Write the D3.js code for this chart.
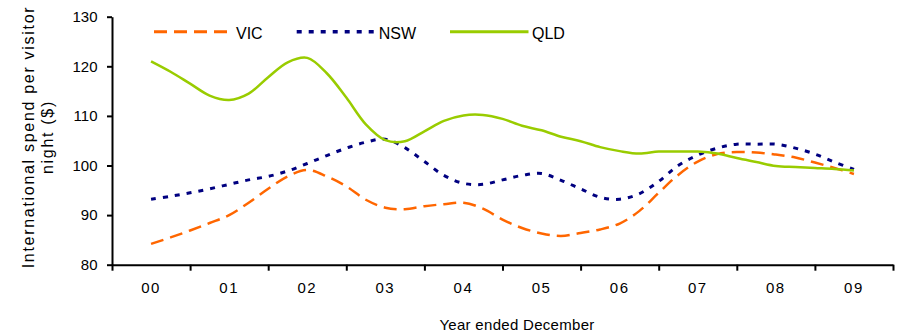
<!DOCTYPE html>
<html>
<head>
<meta charset="utf-8">
<script src="https://cdn.jsdelivr.net/npm/d3@7/dist/d3.min.js"></script>
<style>
  html, body { margin: 0; padding: 0; background: #fff; }
  svg { display: block; font-family: "Liberation Sans", Arial, sans-serif; }
</style>
</head>
<body>
<svg id="chart" width="897" height="333"></svg>
<script>
// Year labels (year ended December) and y-axis ticks
const years = ["00", "01", "02", "03", "04", "05", "06", "07", "08", "09"];
const yTicks = [80, 90, 100, 110, 120, 130];

// Quarterly values, $ per visitor night, from Dec 2000 to Dec 2009
const vic = [84.2, 85.5, 86.9, 88.4, 90.0, 92.5, 95.3, 97.8, 99.1, 97.8,
             95.8, 93.1, 91.5, 91.2, 91.8, 92.2, 92.5, 91.3, 89.1, 87.4,
             86.3, 85.8, 86.4, 87.1, 88.3, 90.8, 94.5, 98.1, 100.8, 102.3,
             102.7, 102.6, 102.2, 101.6, 100.6, 99.5, 98.3];
const nsw = [93.2, 93.8, 94.5, 95.3, 96.2, 97.1, 97.8, 98.9, 100.4, 102.0,
             103.5, 104.7, 105.3, 103.6, 100.8, 98.0, 96.4, 96.2, 97.1, 98.0,
             98.4, 97.0, 95.3, 93.6, 93.2, 94.3, 96.8, 100.0, 102.1, 103.5,
             104.3, 104.3, 104.3, 103.5, 102.3, 100.7, 99.2];
const qld = [121.0, 118.9, 116.5, 114.1, 113.2, 114.5, 117.8, 120.8, 121.7, 118.6,
             113.7, 108.3, 105.1, 104.9, 106.9, 109.0, 110.1, 110.2, 109.4, 108.0,
             107.1, 105.8, 104.9, 103.7, 102.9, 102.4, 102.8, 102.8, 102.8, 102.4,
             101.5, 100.7, 99.9, 99.7, 99.5, 99.3, 99.0];

const series = [
  { name: "VIC", values: vic, color: "#FF6600", width: 2.5, dash: "13,7" },
  { name: "NSW", values: nsw, color: "#000080", width: 3, dash: "5,7" },
  { name: "QLD", values: qld, color: "#99CC00", width: 2.5, dash: null }
];

const svg = d3.select("#chart");
const plotLeft = 112, plotRight = 893, plotTop = 16.7, plotBottom = 264.7;

// Continuous year position: band i spans [i, i+1]
const xLin = d3.scaleLinear().domain([0, years.length]).range([plotLeft, plotRight]);
const xBand = d3.scaleBand().domain(years).range([plotLeft, plotRight]);
const y = d3.scaleLinear().domain([80, 130]).range([plotBottom, plotTop]);

// Y axis
const yAxis = svg.append("g")
  .attr("transform", `translate(${plotLeft},0)`)
  .call(d3.axisLeft(y).tickValues(yTicks).tickSize(5).tickSizeOuter(0).tickPadding(9.5));
yAxis.selectAll("path, line").attr("stroke", "#000").attr("stroke-width", 2);
yAxis.selectAll("text").attr("font-size", 15).attr("fill", "#000")
  .attr("font-family", "Liberation Sans, Arial, sans-serif");

// X axis: tick marks at year boundaries
const xAxis = svg.append("g")
  .attr("transform", `translate(0,${plotBottom})`)
  .call(d3.axisBottom(xLin).tickValues(d3.range(years.length + 1)).tickFormat("").tickSize(6).tickSizeOuter(0));
xAxis.selectAll("path, line").attr("stroke", "#000").attr("stroke-width", 2);

// X axis: year labels centred in each band
const xLabels = svg.append("g")
  .attr("transform", `translate(0,${plotBottom})`)
  .call(d3.axisBottom(xBand).tickSize(0).tickPadding(17.4));
xLabels.select(".domain").remove();
xLabels.selectAll("text").attr("font-size", 15).attr("fill", "#000")
  .attr("letter-spacing", "1.5px")
  .attr("font-family", "Liberation Sans, Arial, sans-serif");

// Axis titles
const yTitle = svg.append("text")
  .attr("transform", "rotate(-90)")
  .attr("text-anchor", "middle")
  .attr("font-size", 16)
  .attr("letter-spacing", "1.7px")
  .attr("fill", "#000");
yTitle.append("tspan").attr("x", -137).attr("y", 34).text("International spend per visitor");
yTitle.append("tspan").attr("x", -137).attr("y", 53).text("night ($)");

svg.append("text")
  .attr("x", 517).attr("y", 330)
  .attr("text-anchor", "middle")
  .attr("font-size", 15)
  .attr("letter-spacing", "0.3px")
  .attr("fill", "#000")
  .text("Year ended December");

// Lines: quarter k sits at band centre of year 00 plus k/4
const line = d3.line()
  .x((d, k) => xLin(0.5 + k / 4))
  .y(d => y(d))
  .curve(d3.curveCatmullRom.alpha(0.5));

svg.append("g").selectAll("path")
  .data(series)
  .join("path")
  .attr("d", d => line(d.values))
  .attr("fill", "none")
  .attr("stroke", d => d.color)
  .attr("stroke-width", d => d.width)
  .attr("stroke-dasharray", d => d.dash);

// Legend
const legendX = [154, 296.7, 450];
const legend = svg.append("g").selectAll("g")
  .data(series)
  .join("g")
  .attr("transform", (d, i) => `translate(${legendX[i]},31.7)`);
legend.append("line")
  .attr("x1", 0).attr("x2", 78.5)
  .attr("stroke", d => d.color)
  .attr("stroke-width", d => d.width + 0.5)
  .attr("stroke-dasharray", d => d.dash);
legend.append("text")
  .attr("x", 82).attr("y", 7.3)
  .attr("font-size", 16)
  .attr("fill", "#000")
  .text(d => d.name);
</script>
</body>
</html>
